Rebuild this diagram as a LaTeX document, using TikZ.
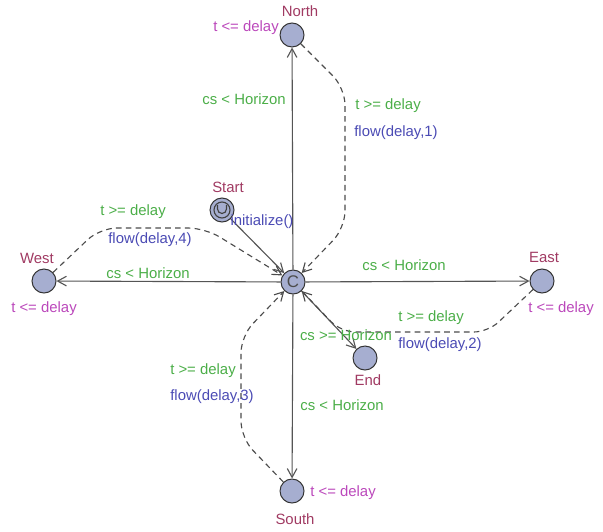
\documentclass[tikz,border=0pt]{standalone}
\usepackage{fontspec}
\setmainfont{Liberation Sans}
\usepackage{tikz}
\usetikzlibrary{arrows.meta, positioning}
\usepackage{xcolor}
\definecolor{locFill}{HTML}{A6AED0}
\definecolor{locName}{HTML}{A03A62}
\definecolor{invColor}{HTML}{BB48BB}
\definecolor{guardColor}{HTML}{4BAE48}
\definecolor{updColor}{HTML}{4B4BB4}
\definecolor{edgeGray}{HTML}{555555}

\begin{document}
\begin{tikzpicture}[
    x=0.025cm, y=-0.025cm,
    font=\fontsize{10.6}{12}\selectfont,
    loc/.style={circle, draw=black!80, fill=locFill, minimum size=0.6cm, inner sep=0pt, line width=0.7pt},
    txt/.style={inner sep=0pt, anchor=center},
    lname/.style={txt, text=locName},
    inv/.style={txt, text=invColor},
    guard/.style={txt, text=guardColor},
    upd/.style={txt, text=updColor},
    edge/.style={draw=edgeGray, thick, -{Straight Barb[length=2.2mm, width=2.4mm]}},
    back/.style={draw=black!70, thick, dashed, dash pattern=on 4pt off 3pt,
                 rounded corners=12pt, -{Straight Barb[length=2.2mm, width=2.4mm]}},
  ]
    \useasboundingbox (0,0) rectangle (603,531);

    % locations
    \node[loc] (hub)   at (293,282) {\textcolor{black!70}{\fontsize{12}{12}\selectfont C}};
    \node[loc] (north) at (292,35)  {};
    \node[loc] (west)  at (44,281)  {};
    \node[loc] (east)  at (542,281) {};
    \node[loc] (south) at (292,491) {};
    \node[loc] (fin)   at (365,358) {};
    \node[loc] (start) at (222,210) {};
    \node[circle, draw=black!75, minimum size=0.4cm, inner sep=0pt, thick] (startin) at (start) {};
    \draw[black!75, thick] (217.5,205) -- (217.5,209) arc[start angle=180, end angle=0, radius=4.5] -- (226.5,205);

    % names and invariants
    \node[lname] (nNorth) at (300,11)  {North};
    \node[inv]   (iNorth) at (246,28)  {t <= delay};
    \node[lname] (nWest)  at (37,258)  {West};
    \node[inv]   (iWest)  at (44,309)  {t <= delay};
    \node[lname] (nEast)  at (544,257) {East};
    \node[inv]   (iEast)  at (561,309) {t <= delay};
    \node[lname] (nSouth) at (295,519) {South};
    \node[inv]   (iSouth) at (343,493) {t <= delay};
    \node[lname] (nEnd)   at (368,380) {End};
    \node[lname] (nStart) at (228,187) {Start};

    % outgoing edges from the hub
    \draw[edge] (start) -- (hub);
    \draw[edge] (hub) -- (north);
    \draw[edge] (hub) -- (west);
    \draw[edge] (hub) -- (east);
    \draw[edge] (hub) -- (south);
    \draw[edge] (hub) -- (fin);

    % waiting edges back to the hub
    \coordinate (n1) at (345,88);  \coordinate (n2) at (345,228);
    \coordinate (w1) at (100,228); \coordinate (w2) at (205,228);
    \coordinate (e1) at (488,332); \coordinate (e2) at (341,332);
    \coordinate (s1) at (241,438); \coordinate (s2) at (241,336);
    \draw[back] (north) -- (n1) -- (n2) -- (hub);
    \draw[back] (west)  -- (w1) -- (w2) -- (hub);
    \draw[back, rounded corners=10pt] (east) -- (e1) -- (e2) -- (hub);
    \draw[back] (south) -- (s1) -- (s2) -- (hub);

    % edge labels
    \node[upd]   (lInit) at (262,222) {initialize()};
    \node[guard] (gN)  at (244,99)  {cs < Horizon};
    \node[guard] (gW)  at (148,273) {cs < Horizon};
    \node[guard] (gE)  at (404,265) {cs < Horizon};
    \node[guard] (gS)  at (342,405) {cs < Horizon};
    \node[guard] (gEnd) at (346,335) {cs >= Horizon};
    \node[guard] (tN)  at (388,106) {t >= delay};
    \node[upd]   (fN)  at (396,133) {flow(delay,1)};
    \node[guard] (tW)  at (133,212) {t >= delay};
    \node[upd]   (fW)  at (150,240) {flow(delay,4)};
    \node[guard] (tE)  at (431,318) {t >= delay};
    \node[upd]   (fE)  at (440,345) {flow(delay,2)};
    \node[guard] (tS)  at (203,371) {t >= delay};
    \node[upd]   (fS)  at (212,397) {flow(delay,3)};
  \end{tikzpicture}
\end{document}
